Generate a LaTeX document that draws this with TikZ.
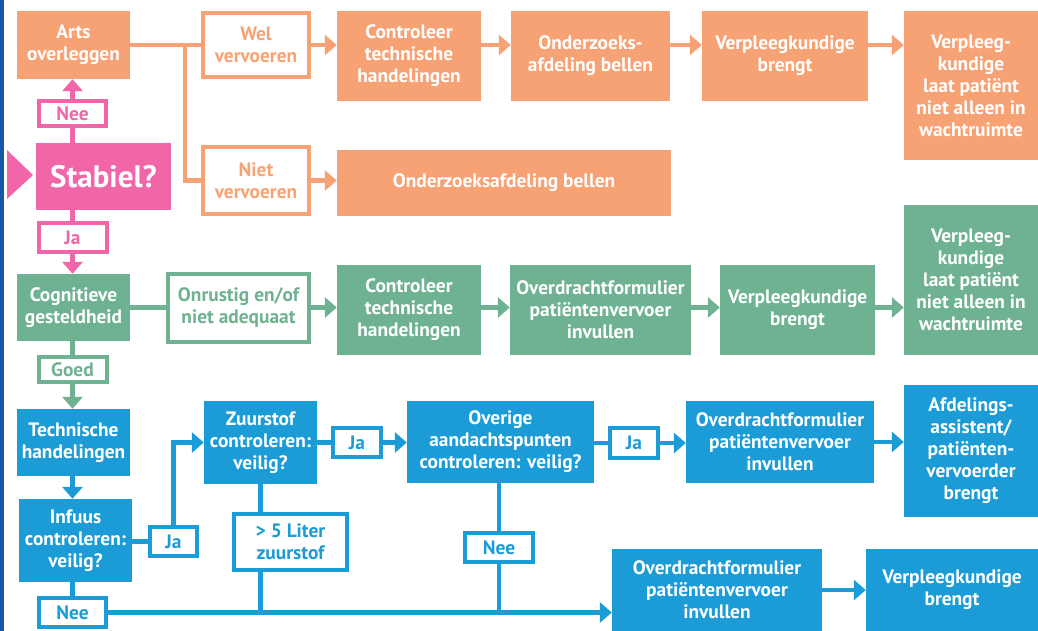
\documentclass[tikz,border=0pt]{standalone}
\usepackage{fontspec}
\setmainfont{PT Sans}
\usetikzlibrary{arrows.meta}
\definecolor{oranje}{RGB}{247,162,116}
\definecolor{roze}{RGB}{240,102,168}
\definecolor{groen}{RGB}{110,178,145}
\definecolor{blauw}{RGB}{27,156,215}
\definecolor{donkerblauw}{RGB}{22,88,163}
\tikzset{
  base/.style={inner sep=0pt, align=center, font=\bfseries\fontsize{19.4}{22}\selectfont},
  filled/.style={base, fill=#1, draw=none, text=white},
  outl/.style={base, fill=white, draw=#1, line width=4pt, text=#1},
  conn/.style={line width=4.5pt, draw=#1},
  arr/.style={conn=#1, -{Triangle[width=20pt,length=12pt]}},
  wh/.style 2 args={minimum width=#1, minimum height=#2},
}
\begin{document}
\begin{tikzpicture}[x=1pt,y=-1pt]
\useasboundingbox (0,0) rectangle (1038,631);
\fill[white] (0,0) rectangle (1038,631);
\fill[donkerblauw] (0,0) rectangle (3.5,631);
\fill[roze] (7,150) -- (33,175) -- (7,199) -- cycle;

% orange row
\node[filled=oranje, wh={113}{68}] (arts) at (73.5,45) {Arts\\overleggen};
\node[outl=oranje, wh={106}{64}] (wel) at (256,45) {Wel\\vervoeren};
\node[outl=oranje, wh={106}{67}] (niet) at (256,180.5) {Niet\\vervoeren};
\node[filled=oranje, wh={144}{90}] (ctrl1) at (409,56) {Controleer\\technische\\handelingen};
\node[filled=oranje, wh={159}{90}] (ond1) at (590.5,56) {Onderzoeks-\\afdeling bellen};
\node[filled=oranje, wh={166}{90}] (vb1) at (785,56) {Verpleegkundige\\brengt};
\node[filled=oranje, wh={134}{149}] (vl1) at (971,85.5) {Verpleeg-\\kundige\\laat patiënt\\niet alleen in\\wachtruimte};
\node[filled=oranje, wh={334}{66}] (ond2) at (504,183) {Onderzoeksafdeling bellen};

% pink
\node[outl=roze, wh={67}{25}] (nee1) at (72.5,113.5) {Nee};
\node[filled=roze, wh={135}{67}, font=\bfseries\fontsize{31}{34}\selectfont] (stab) at (103.5,176.5) {Stabiel?};
\node[outl=roze, wh={68}{29}] (ja1) at (72.5,237.5) {Ja};

% green row
\node[filled=groen, wh={113}{67}] (cog) at (73.5,307.5) {Cognitieve\\gesteldheid};
\node[outl=groen, wh={141}{68}] (onr) at (238.5,307.5) {Onrustig en/of\\niet adequaat};
\node[filled=groen, wh={144}{90}] (ctrl2) at (409,310) {Controleer\\technische\\handelingen};
\node[filled=groen, wh={181}{90}] (ovd2) at (600.5,310) {Overdrachtformulier\\patiëntenvervoer\\invullen};
\node[filled=groen, wh={155}{90}] (vb2) at (797.5,310) {Verpleegkundige\\brengt};
\node[filled=groen, wh={134}{150}] (vl2) at (971,280) {Verpleeg-\\kundige\\laat patiënt\\niet alleen in\\wachtruimte};
\node[outl=groen, wh={68}{25}] (goed) at (72.5,369.5) {Goed};

% blue
\node[filled=blauw, wh={113}{67}] (tech) at (73.5,442.5) {Technische\\handelingen};
\node[filled=blauw, wh={113}{83}] (inf) at (75.5,540.5) {Infuus\\controleren:\\veilig?};
\node[outl=blauw, wh={47}{29}] (ja2) at (173.5,541.5) {Ja};
\node[filled=blauw, wh={113}{83}] (zuur) at (260.5,442.5) {Zuurstof\\controleren:\\veilig?};
\node[outl=blauw, wh={48}{29}] (ja3) at (357,442.5) {Ja};
\node[filled=blauw, wh={187}{82}] (ovr) at (500.5,442) {Overige\\aandachtspunten\\controleren: veilig?};
\node[outl=blauw, wh={48}{30}] (ja4) at (634,443) {Ja};
\node[filled=blauw, wh={188}{82}] (ovd3) at (780,442) {Overdrachtformulier\\patiëntenvervoer\\invullen};
\node[filled=blauw, wh={134}{132}] (afd) at (971,451) {Afdelings-\\assistent/\\patiënten-\\vervoerder\\brengt};
\node[outl=blauw, wh={113}{56}] (liter) at (290.5,542) {> 5 Liter\\zuurstof};
\node[outl=blauw, wh={68}{29}] (nee2) at (499,547.5) {Nee};
\node[outl=blauw, wh={67}{29}] (nee3) at (72.5,612.5) {Nee};
\node[filled=blauw, wh={210}{82}] (ovd4) at (717,590) {Overdrachtformulier\\patiëntenvervoer\\invullen};
\node[filled=blauw, wh={172}{82}] (vb4) at (952,590) {Verpleegkundige\\brengt};

% pink connectors
\draw[conn=roze] (stab.north -| nee1) -- (nee1.south);
\draw[arr=roze] (nee1.north) -- (nee1.north |- arts.south);
\draw[conn=roze] (stab.south -| ja1) -- (ja1.north);
\draw[arr=roze] (ja1.south) -- (ja1.south |- cog.north);

% orange connectors
\draw[conn=oranje] (arts.east) -- (wel.west);
\coordinate (br) at (185,45);
\draw[conn=oranje] (br) |- (niet.west);
\draw[arr=oranje] (wel.east) -- (wel.east -| ctrl1.west);
\draw[arr=oranje] (ctrl1.east |- wel.east) -- (ond1.west |- wel.east);
\draw[arr=oranje] (ond1.east |- wel.east) -- (vb1.west |- wel.east);
\draw[arr=oranje] (vb1.east |- wel.east) -- (vl1.west |- wel.east);
\draw[arr=oranje] (niet.east) -- (niet.east -| ond2.west);

% green connectors
\draw[conn=groen] (cog.east) -- (cog.east -| onr.west);
\draw[arr=groen] (onr.east) -- (onr.east -| ctrl2.west);
\draw[arr=groen] (ctrl2.east |- onr.east) -- (ovd2.west |- onr.east);
\draw[arr=groen] (ovd2.east |- onr.east) -- (vb2.west |- onr.east);
\draw[arr=groen] (vb2.east |- onr.east) -- (vl2.west |- onr.east);
\draw[conn=groen] (cog.south -| goed) -- (goed.north);
\draw[arr=groen] (goed.south) -- (goed.south |- tech.north);

% blue connectors
\draw[arr=blauw] (tech.south -| nee3) -- (inf.north -| nee3);
\draw[conn=blauw] (ja2.west -| inf.east) -- (ja2.west);
\draw[arr=blauw] (ja2.north) |- (zuur.west);
\draw[conn=blauw] (zuur.east) -- (ja3.west);
\draw[arr=blauw] (ja3.east) -- (ja3.east -| ovr.west);
\draw[conn=blauw] (ja4.west -| ovr.east) -- (ja4.west);
\draw[arr=blauw] (ja4.east) -- (ja4.east -| ovd3.west);
\draw[arr=blauw] (ovd3.east) -- (ovd3.east -| afd.west);
\draw[conn=blauw] (zuur.south) -- (zuur.south |- liter.north);
\draw[conn=blauw] (zuur.south |- liter.south) -- (zuur.south |- nee3.east);
\draw[conn=blauw] (ovr.south -| nee2) -- (nee2.north);
\draw[conn=blauw] (nee2.south) -- (nee2.south |- nee3.east);
\draw[conn=blauw] (inf.south -| nee3) -- (nee3.north);
\draw[arr=blauw] (nee3.east) -- (nee3.east -| ovd4.west);
\draw[arr=blauw] (ovd4.east) -- (ovd4.east -| vb4.west);
\end{tikzpicture}
\end{document}
